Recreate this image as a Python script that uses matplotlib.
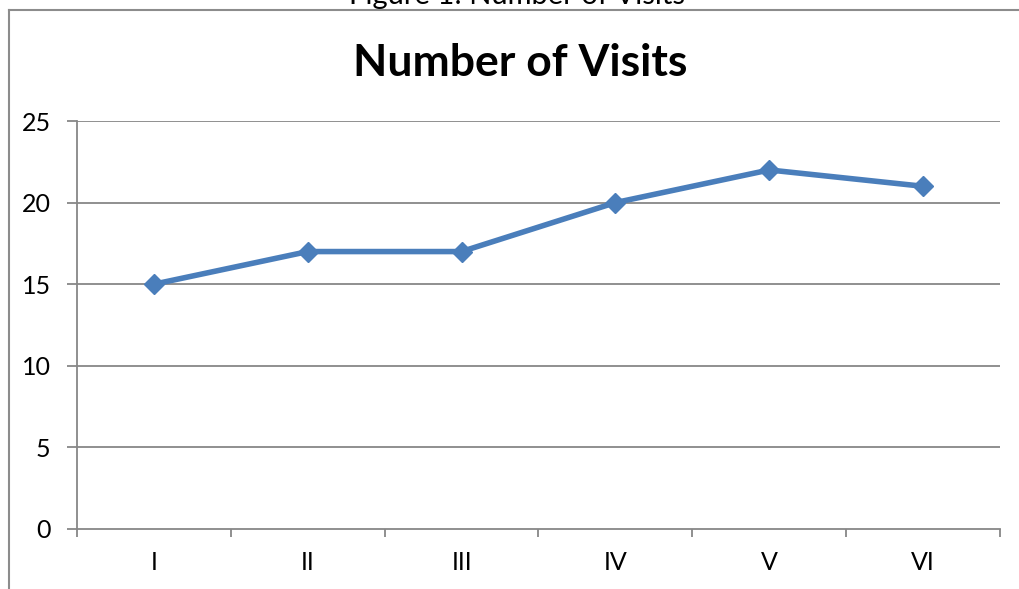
import matplotlib.pyplot as plt
from matplotlib.lines import Line2D

# chart data
categories = ['I', 'II', 'III', 'IV', 'V', 'VI']
visits = [15, 17, 17, 20, 22, 21]
y_ticks = [0, 5, 10, 15, 20, 25]

plt.rcParams['font.family'] = ['Lato', 'DejaVu Sans']

fig = plt.figure(figsize=(10.19, 5.89), dpi=100)
ax = fig.add_axes([77/1019, 1-529/589, 923/1019, 408/589])

grid_c = '#878787'
x = list(range(len(categories)))
ax.plot(x, visits, color='#4A7EBB', lw=4, marker='D', ms=10,
        markerfacecolor='#4A7EBB', markeredgecolor='#4A7EBB', zorder=3)

ax.set_xlim(-0.5, len(categories) - 0.5)
ax.set_ylim(0, 25)
ax.set_yticks(y_ticks)
for t in y_ticks[1:]:
    ax.axhline(t, color=grid_c, lw=1.3, zorder=1)

ax.set_xticks([i - 0.5 for i in range(len(categories) + 1)])
ax.set_xticklabels([])
ax.set_xticks(x, minor=True)
ax.set_xticklabels(categories, minor=True, fontsize=18)
ax.tick_params(axis='x', which='major', length=6, width=1.3, color=grid_c, direction='out')
ax.tick_params(axis='x', which='minor', length=0, pad=16)
ax.tick_params(axis='y', length=7, width=1.3, color=grid_c, labelsize=18, pad=12)

for s in ['top', 'right']:
    ax.spines[s].set_visible(False)
for s in ['left', 'bottom']:
    ax.spines[s].set_color(grid_c)
    ax.spines[s].set_linewidth(1.3)

# chart title, centred on the chart frame
fig.text(520/1019, 1-76/589, 'Number of Visits', ha='center', va='baseline',
         fontsize=32, fontweight='bold')

# outer chart frame (left and top edges visible)
frame_c = '#8C8C8C'
fig.add_artist(Line2D([9/1019, 9/1019], [0, 1-10/589], color=frame_c, lw=1.5))
fig.add_artist(Line2D([9/1019, 1], [1-10/589, 1-10/589], color=frame_c, lw=1.5))

# caption cut off at the top
fig.text(517/1019, 1-4/589, 'Figure 1: Number of Visits', ha='center', va='baseline', fontsize=21)

fig.savefig('out.png', dpi=100)
